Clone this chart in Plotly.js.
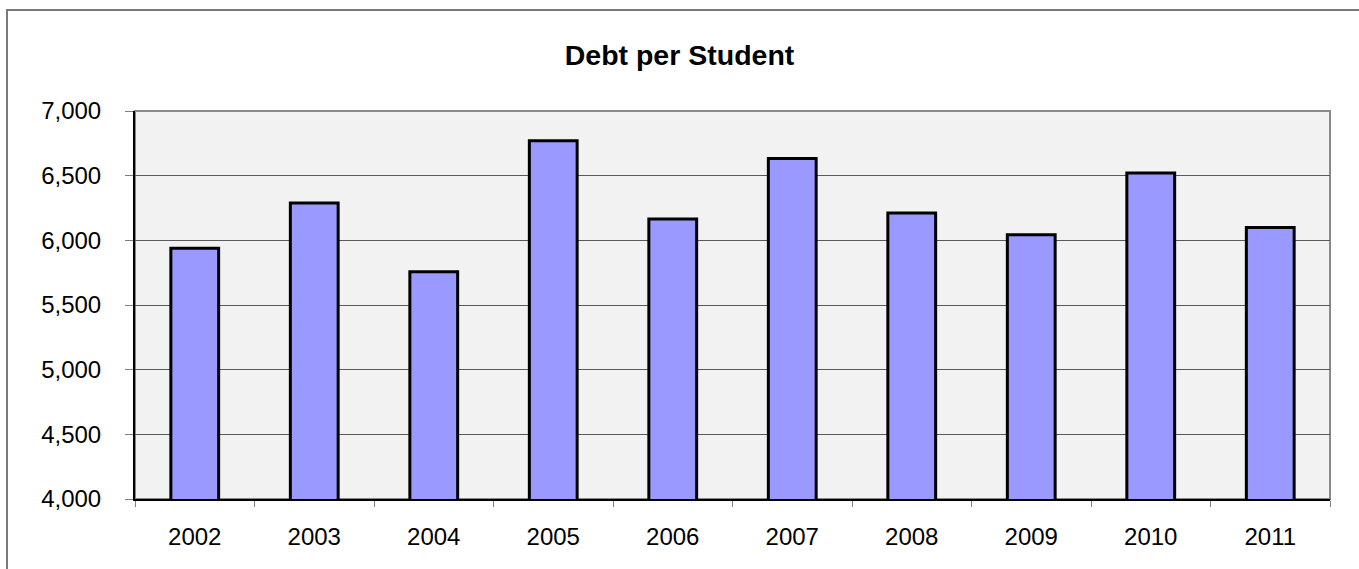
<!DOCTYPE html>
<html>
<head>
<meta charset="utf-8">
<script src="https://cdn.plot.ly/plotly-3.0.1.min.js"></script>
<style>
  html, body { margin: 0; padding: 0; background: #ffffff; }
  #chart { position: absolute; left: 0; top: 0; width: 1359px; height: 569px; }
  #frame { position: absolute; left: 6px; top: 9px; width: 1400px; height: 600px;
           border-left: 2px solid #7a7a7a; border-top: 2px solid #7a7a7a; pointer-events: none; }
</style>
</head>
<body>
<div id="chart"></div>
<div id="frame"></div>
<script>
const years = ["2002", "2003", "2004", "2005", "2006", "2007", "2008", "2009", "2010", "2011"];
const debtPerStudent = [5938, 6289, 5758, 6770, 6164, 6633, 6212, 6043, 6520, 6100];
const yTickVals = [4000, 4500, 5000, 5500, 6000, 6500, 7000];
const yTickText = ["4,000", "4,500", "5,000", "5,500", "6,000", "6,500", "7,000"];
const chartTitle = "Debt per Student";

const trace = {
  type: "bar",
  x: years,
  y: debtPerStudent,
  width: 0.4,
  marker: { color: "#9999ff", line: { color: "#000000", width: 3 } },
  hoverinfo: "x+y"
};

const layout = {
  width: 1359,
  height: 569,
  margin: { l: 135, r: 29, t: 111, b: 70 },
  paper_bgcolor: "#ffffff",
  plot_bgcolor: "#f2f2f2",
  showlegend: false,
  font: { family: "Liberation Sans, Arial, sans-serif", color: "#000000" },
  title: {
    text: "<b>" + chartTitle + "</b>",
    font: { size: 28.5, family: "Liberation Sans, Arial, sans-serif", color: "#000000" },
    x: 0.5, xanchor: "center",
    y: 52, yref: "container", yanchor: "middle"
  },
  xaxis: {
    type: "category",
    tickson: "boundaries",
    ticks: "outside",
    ticklen: 6,
    tickcolor: "#808080",
    tickwidth: 1,
    showgrid: false,
    showline: true,
    linecolor: "#000000",
    linewidth: 2,
    tickfont: { size: 24 },
    ticklabelstandoff: 15,
    fixedrange: true
  },
  yaxis: {
    range: [4000, 7000],
    tickvals: yTickVals,
    ticktext: yTickText,
    ticks: "outside",
    ticklen: 8,
    tickcolor: "#808080",
    tickwidth: 1,
    showgrid: true,
    gridcolor: "#5a5a5a",
    gridwidth: 1,
    zeroline: false,
    showline: true,
    linecolor: "#000000",
    linewidth: 2,
    tickfont: { size: 24 },
    ticklabelstandoff: 19,
    fixedrange: true
  },
  shapes: [
    { type: "rect", xref: "paper", yref: "paper", x0: 0, x1: 1, y0: 0, y1: 1,
      line: { color: "#8a8a8a", width: 2 }, fillcolor: "rgba(0,0,0,0)", layer: "below" }
  ]
};

Plotly.newPlot("chart", [trace], layout, { displayModeBar: false, staticPlot: true });
</script>
</body>
</html>
